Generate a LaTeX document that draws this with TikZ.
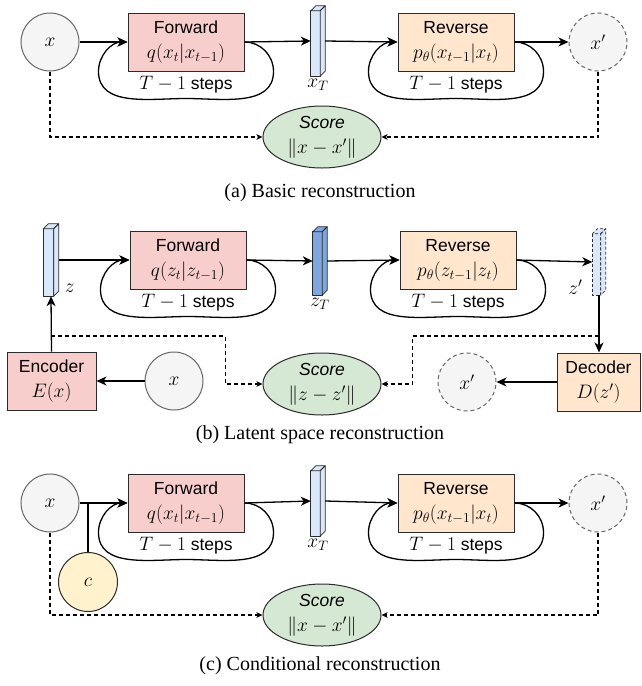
\RequirePackage{fix-cm}
\documentclass[tikz,border=0pt]{standalone}
\usepackage[no-math]{fontspec}
\setmainfont{Liberation Serif}
\setsansfont{Liberation Sans}
\usetikzlibrary{arrows.meta,calc,shapes.geometric}

\definecolor{fwdfill}{HTML}{F8CECC}
\definecolor{revfill}{HTML}{FFE6CC}
\definecolor{scrfill}{HTML}{D5E8D4}
\definecolor{cubfill}{HTML}{DAE8FC}
\definecolor{cubdark}{HTML}{7EA6E0}
\definecolor{cndfill}{HTML}{FFF2CC}
\definecolor{gfill}{HTML}{F5F5F5}
\definecolor{gline}{HTML}{666666}
\definecolor{dline}{HTML}{2B2B2B}

\newcommand\lblfont{\fontsize{17.5}{25}\selectfont\sffamily}
\newcommand\capfont{\fontsize{20}{24}\selectfont\rmfamily}
\newcommand\mth[1]{{\fontsize{19.5}{25}\selectfont$#1$}}

\tikzset{
  box/.style={draw=dline, line width=1pt, minimum width=116pt, minimum height=58pt,
    inner sep=0pt, align=center, font=\lblfont},
  fwdbox/.style={box, fill=fwdfill},
  revbox/.style={box, fill=revfill},
  circ/.style={circle, minimum size=58pt, inner sep=0pt, draw=gline, fill=gfill,
    line width=1pt, font=\lblfont},
  circdash/.style={circ, dash pattern=on 4pt off 3pt},
  condcirc/.style={circle, minimum size=59pt, inner sep=0pt, draw=dline, fill=cndfill,
    line width=1pt, font=\lblfont},
  scorenode/.style={ellipse, draw=dline, fill=scrfill, line width=1pt,
    minimum width=118pt, minimum height=62pt, inner sep=0pt, align=center, font=\lblfont},
  cubenode/.style={minimum width=14pt, minimum height=70pt, inner sep=0pt, draw=none},
  cubeline/.style={draw=dline, line width=0.8pt, line join=round},
  arr/.style={line width=1.3pt, draw=black, -{Stealth[length=10pt,width=9pt,inset=3pt]}},
  plainline/.style={line width=1.3pt, draw=black},
  darr/.style={line width=1.1pt, draw=black, dash pattern=on 4pt off 3pt,
    -{Stealth[length=6pt,width=5.5pt,inset=1.5pt]}},
  steplbl/.style={font=\lblfont, inner sep=0pt},
  mathlbl/.style={font=\lblfont, inner sep=0pt},
  captxt/.style={font=\capfont, inner sep=0pt}
}

\newcommand\cubefaces[3]{%
  \draw[cubeline,fill=#2,#3] ($(#1.north west)+(0pt,-5pt)$) rectangle ($(#1.south east)+(-5pt,0pt)$);
  \draw[cubeline,fill=#2,#3] ($(#1.north west)+(0pt,-5pt)$) -- ($(#1.north west)+(5pt,0pt)$)
     -- (#1.north east) -- ($(#1.north east)+(-5pt,-5pt)$) -- cycle;
  \draw[cubeline,fill=#2,#3] ($(#1.north east)+(-5pt,-5pt)$) -- (#1.north east)
     -- ($(#1.south east)+(0pt,5pt)$) -- ($(#1.south east)+(-5pt,0pt)$) -- cycle;
}

\newcommand\looparound[1]{%
  \draw[arr] (#1.east) to[out=0,in=90] ($(#1.south east)+(29pt,0pt)$)
     to[out=-90,in=0] ($(#1.south)+(0pt,-27pt)$)
     to[out=180,in=-90] ($(#1.south west)+(-29pt,0pt)$)
     to[out=90,in=180] (#1.west);
}

\begin{document}
\begin{tikzpicture}[x=1pt,y=-1pt]
\useasboundingbox (0,0) rectangle (641,686);

% ---------------- (a) ----------------
\node[circ] (xa) at (50,42) {\mth{x}};
\node[fwdbox] (Fa) at (186,42) {Forward\\\mth{q(x_t|x_{t-1})}};
\node[cubenode] (xTa) at (318,41) {};
\cubefaces{xTa}{cubfill}{}
\node[mathlbl] (xTalbl) at ($(xTa.south)+(0pt,-9pt)$) {\mth{x_T}};
\node[revbox] (Ra) at (456,42) {Reverse\\\mth{p_\theta(x_{t-1}|x_t)}};
\node[circdash] (xpa) at (598,42) {\mth{x'}};
\node[scorenode] (Sa) at (322,137) {\itshape Score\\\mth{\|x-x'\|}};

\draw[arr] (xa.east) -- (Fa.west);
\looparound{Fa}
\node[steplbl] (Fastep) at ($(Fa.south)+(0pt,-13pt)$) {\mth{T-1} steps};
\draw[arr] (Fa.east) -- (xTa.west);
\draw[arr] (xTa.east) -- (Ra.west);
\looparound{Ra}
\node[steplbl] (Rastep) at ($(Ra.south)+(0pt,-13pt)$) {\mth{T-1} steps};
\draw[arr] (Ra.east) -- (xpa.west);
\draw[darr] (xa.south) |- (Sa.west);
\draw[darr] (xpa.south) |- (Sa.east);
\node[captxt] (capa) at (320,193) {(a) Basic reconstruction};

% ---------------- (b) ----------------
\node[cubenode, minimum width=15pt, minimum height=72pt] (zb) at (51,260) {};
\cubefaces{zb}{cubfill}{}
\node[mathlbl] (zblbl) at ($(zb.south east)+(11pt,8pt)$) {\mth{z}};
\node[fwdbox] (Fb) at (188,260) {Forward\\\mth{q(z_t|z_{t-1})}};
\node[cubenode, minimum height=68pt] (zTb) at (320,261) {};
\cubefaces{zTb}{cubdark}{}
\node[mathlbl] (zTblbl) at ($(zTb.south)+(0pt,-9pt)$) {\mth{z_T}};
\node[revbox] (Rb) at (458,260) {Reverse\\\mth{p_\theta(z_{t-1}|z_t)}};
\node[cubenode, minimum width=13pt, minimum height=66pt] (zpb) at (599,262) {};
\cubefaces{zpb}{cubfill}{dash pattern=on 3pt off 2pt}
\node[mathlbl] (zpblbl) at ($(zpb.south west)+(-17pt,8pt)$) {\mth{z'}};

\node[fwdbox, minimum width=89pt] (enc) at (51.5,381) {Encoder\\\mth{E(x)}};
\node[circ] (xb) at (174,381) {\mth{x}};
\node[scorenode] (Sb) at (322,384) {\itshape Score\\\mth{\|z-z'\|}};
\node[circdash] (xpb) at (467,382) {\mth{x'}};
\node[revbox, minimum width=83pt] (dec) at (598.5,382) {Decoder\\\mth{D(z')}};

\draw[arr] (zb.east) -- (Fb.west);
\looparound{Fb}
\node[steplbl] (Fbstep) at ($(Fb.south)+(0pt,-13pt)$) {\mth{T-1} steps};
\draw[arr] (Fb.east) -- (zTb.west);
\draw[arr] (zTb.east) -- (Rb.west);
\looparound{Rb}
\node[steplbl] (Rbstep) at ($(Rb.south)+(0pt,-13pt)$) {\mth{T-1} steps};
\draw[arr] (Rb.east) -- (zpb.west);
\draw[arr] (xb.west) -- (enc.east);
\draw[arr] (enc.north) -- (zb.south);
\draw[arr] (zpb.south) -- (zpb.south |- dec.north);
\draw[arr] (dec.west) -- (xpb.east);
\coordinate (zj) at (51,336);
\coordinate (zpj) at (zpb.south |- zj);
\draw[darr] (zj) -| ($(Sb.west)+(-37pt,0pt)$) -- (Sb.west);
\draw[darr] (zpj) -| ($(Sb.east)+(31pt,0pt)$) -- (Sb.east);
\node[captxt] (capb) at (320,435) {(b) Latent space reconstruction};

% ---------------- (c) ----------------
\node[circ] (xc) at (50,503) {\mth{x}};
\node[fwdbox] (Fc) at (186,503) {Forward\\\mth{q(x_t|x_{t-1})}};
\node[cubenode] (xTc) at (318,501) {};
\cubefaces{xTc}{cubfill}{}
\node[mathlbl] (xTclbl) at ($(xTc.south)+(0pt,-9pt)$) {\mth{x_T}};
\node[revbox] (Rc) at (456,503) {Reverse\\\mth{p_\theta(x_{t-1}|x_t)}};
\node[circdash] (xpc) at (598,503) {\mth{x'}};
\node[condcirc] (cc) at (88,582) {\mth{c}};
\node[scorenode] (Sc) at (322,615) {\itshape Score\\\mth{\|x-x'\|}};

\draw[arr] (xc.east) -- (Fc.west);
\coordinate (cj) at (cc.north |- xc.east);
\draw[plainline] (cc.north) -- (cj);
\looparound{Fc}
\node[steplbl] (Fcstep) at ($(Fc.south)+(0pt,-13pt)$) {\mth{T-1} steps};
\draw[arr] (Fc.east) -- (xTc.west);
\draw[arr] (xTc.east) -- (Rc.west);
\looparound{Rc}
\node[steplbl] (Rcstep) at ($(Rc.south)+(0pt,-13pt)$) {\mth{T-1} steps};
\draw[arr] (Rc.east) -- (xpc.west);
\draw[darr] (xc.south) |- (Sc.west);
\draw[darr] (xpc.south) |- (Sc.east);
\node[captxt] (capc) at (320,666) {(c) Conditional reconstruction};
\end{tikzpicture}
\end{document}
